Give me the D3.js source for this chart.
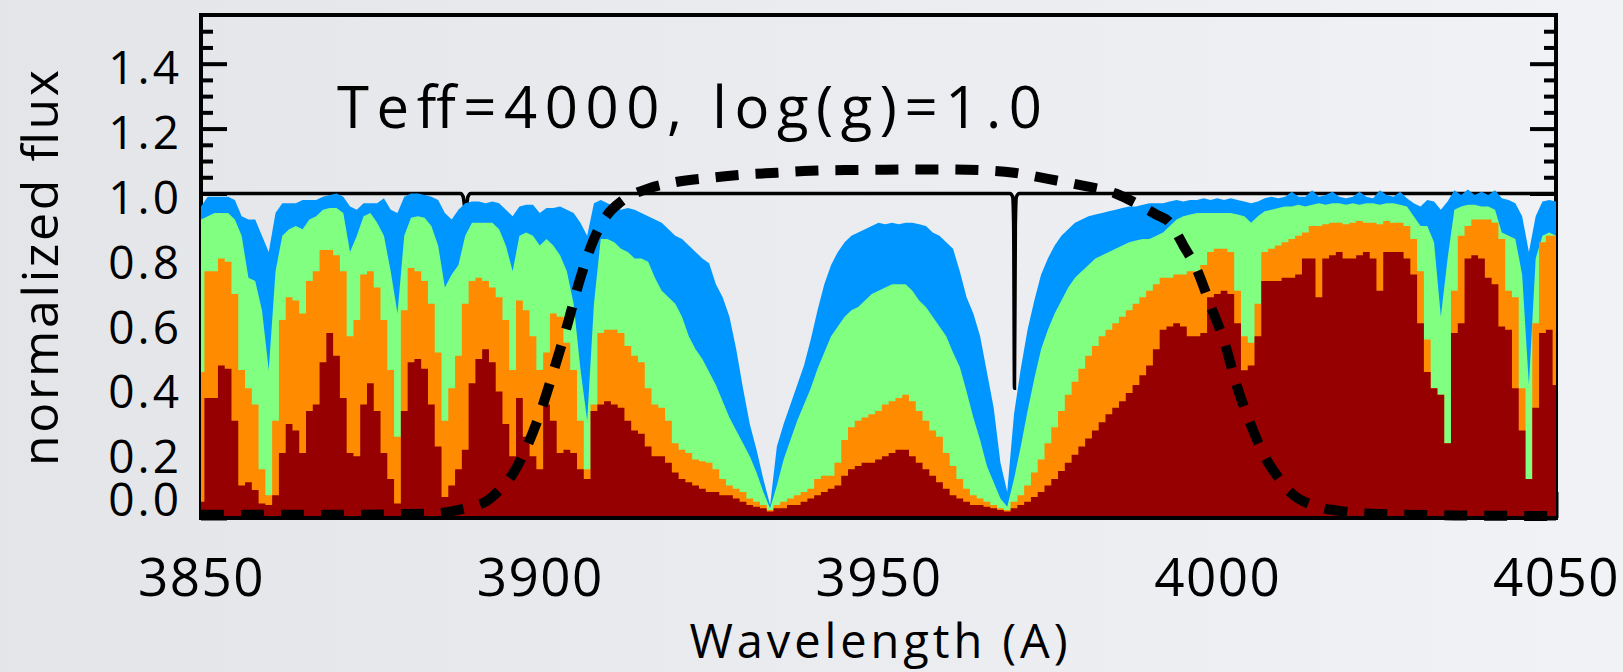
<!DOCTYPE html>
<html>
<head>
<meta charset="utf-8">
<script src="https://cdn.jsdelivr.net/npm/d3@7"></script>
<style>
  html, body { margin: 0; padding: 0; }
  svg { display: block; }
  text { font-family: "Open Sans", "Noto Sans", sans-serif; fill: #000; }
</style>
</head>
<body>
<div id="chart"></div>
<script>
// ---- data ----
// wavelength grid, 1 A sampling from 3850 to 4050
const wavelengths = d3.range(3850, 4051);

// metal-poor (top) ... metal-rich (bottom) model spectra
const fluxBlue = [
  0.96, 0.99, 0.99, 0.99, 0.99, 0.98, 0.93, 0.92, 0.92, 0.87,   // 3850
  0.82, 0.94, 0.97, 0.97, 0.97, 0.98, 0.98, 0.98, 0.99, 0.995,  // 3860
  1.0, 0.99, 0.96, 0.95, 0.97, 0.97, 0.97, 0.985, 0.95, 0.94,   // 3870
  0.99, 1.0, 1.0, 0.995, 0.99, 0.98, 0.94, 0.92, 0.95, 0.97,    // 3880
  0.975, 0.975, 0.97, 0.975, 0.97, 0.95, 0.93, 0.96, 0.965, 0.965, // 3890
  0.94, 0.955, 0.955, 0.96, 0.95, 0.94, 0.91, 0.87, 0.97, 0.98,  // 3900
  0.97, 0.96, 0.95, 0.955, 0.95, 0.94, 0.93, 0.92, 0.91, 0.89,   // 3910
  0.87, 0.86, 0.84, 0.82, 0.80, 0.785, 0.72, 0.68, 0.62, 0.52,   // 3920
  0.40, 0.29, 0.21, 0.12, 0.04, 0.22, 0.29, 0.35, 0.41, 0.47,    // 3930
  0.55, 0.64, 0.72, 0.78, 0.82, 0.85, 0.87, 0.88, 0.89, 0.90,    // 3940
  0.91, 0.905, 0.91, 0.905, 0.91, 0.91, 0.905, 0.90, 0.88, 0.87, // 3950
  0.85, 0.83, 0.76, 0.68, 0.63, 0.56, 0.45, 0.34, 0.17, 0.08,    // 3960
  0.32, 0.46, 0.58, 0.67, 0.75, 0.80, 0.84, 0.87, 0.89, 0.91,    // 3970
  0.92, 0.93, 0.935, 0.94, 0.945, 0.95, 0.955, 0.96, 0.96, 0.965, // 3980
  0.97, 0.97, 0.97, 0.975, 0.98, 0.975, 0.98, 0.98, 0.985, 0.98, // 3990
  0.985, 0.98, 0.985, 0.98, 0.975, 0.97, 0.975, 0.985, 0.99, 0.985, // 4000
  0.99, 1.005, 0.99, 0.99, 1.01, 0.99, 0.995, 1.005, 0.99, 0.985, // 4010
  0.99, 1.005, 0.99, 0.985, 1.01, 0.995, 0.99, 1.005, 0.985, 0.97, // 4020
  0.96, 0.98, 0.975, 0.95, 0.975, 1.01, 0.995, 1.012, 0.995, 1.005, // 4030
  0.995, 1.01, 0.985, 0.98, 0.97, 0.93, 0.82, 0.93, 0.975, 0.98, // 4040
  0.975                                                          // 4050
];

const fluxGreen = [
  0.92, 0.93, 0.94, 0.94, 0.94, 0.92, 0.87, 0.74, 0.73, 0.64,
  0.456, 0.76, 0.87, 0.89, 0.90, 0.89, 0.92, 0.93, 0.95, 0.955,
  0.955, 0.94, 0.82, 0.87, 0.93, 0.94, 0.91, 0.87, 0.76, 0.63,
  0.87, 0.925, 0.93, 0.925, 0.90, 0.84, 0.71, 0.75, 0.78, 0.87,
  0.91, 0.91, 0.91, 0.91, 0.89, 0.84, 0.76, 0.87, 0.88, 0.87,
  0.84, 0.86, 0.84, 0.81, 0.76, 0.66, 0.46, 0.30, 0.66, 0.86,
  0.86, 0.85, 0.83, 0.82, 0.80, 0.80, 0.79, 0.74, 0.70, 0.68,
  0.66, 0.62, 0.56, 0.52, 0.49, 0.45, 0.41, 0.36, 0.31, 0.27,
  0.23, 0.19, 0.14, 0.08, 0.03, 0.10, 0.18, 0.24, 0.30, 0.35,
  0.40, 0.46, 0.51, 0.56, 0.59, 0.62, 0.64, 0.65, 0.67, 0.69,
  0.70, 0.71, 0.72, 0.72, 0.72, 0.70, 0.67, 0.65, 0.62, 0.59,
  0.56, 0.51, 0.465, 0.39, 0.31, 0.24, 0.16, 0.11, 0.06, 0.035,
  0.12, 0.22, 0.33, 0.43, 0.52, 0.58, 0.63, 0.67, 0.71, 0.74,
  0.76, 0.78, 0.80, 0.81, 0.82, 0.83, 0.84, 0.85, 0.855, 0.86,
  0.86, 0.87, 0.88, 0.90, 0.92, 0.93, 0.935, 0.94, 0.94, 0.94,
  0.94, 0.94, 0.94, 0.935, 0.93, 0.91, 0.93, 0.945, 0.95, 0.955,
  0.96, 0.96, 0.965, 0.96, 0.965, 0.97, 0.965, 0.97, 0.97, 0.965,
  0.97, 0.965, 0.97, 0.97, 0.965, 0.97, 0.97, 0.965, 0.96, 0.93,
  0.90, 0.90, 0.85, 0.62, 0.80, 0.95, 0.96, 0.965, 0.965, 0.96,
  0.96, 0.95, 0.88, 0.87, 0.86, 0.75, 0.41, 0.80, 0.87, 0.88,
  0.87
];

const fluxOrange = [
  0.45, 0.76, 0.76, 0.80, 0.79, 0.69, 0.456, 0.40, 0.35, 0.15,
  0.07, 0.30, 0.61, 0.68, 0.67, 0.63, 0.73, 0.76, 0.826, 0.826,
  0.81, 0.76, 0.56, 0.61, 0.75, 0.76, 0.71, 0.61, 0.456, 0.25,
  0.64, 0.77, 0.76, 0.73, 0.66, 0.51, 0.30, 0.40, 0.50, 0.66,
  0.73, 0.74, 0.73, 0.71, 0.68, 0.61, 0.456, 0.67, 0.64, 0.56,
  0.456, 0.51, 0.63, 0.62, 0.54, 0.456, 0.30, 0.15, 0.35, 0.57,
  0.58, 0.58, 0.57, 0.53, 0.50, 0.48, 0.40, 0.35, 0.34, 0.30,
  0.23, 0.21, 0.20, 0.18, 0.175, 0.17, 0.15, 0.12, 0.10, 0.09,
  0.08, 0.06, 0.05, 0.04, 0.025, 0.04, 0.05, 0.06, 0.07, 0.08,
  0.09, 0.12, 0.13, 0.13, 0.17, 0.24, 0.28, 0.30, 0.31, 0.32,
  0.33, 0.35, 0.36, 0.37, 0.38, 0.36, 0.33, 0.30, 0.27, 0.25,
  0.20, 0.16, 0.12, 0.09, 0.07, 0.06, 0.05, 0.04, 0.03, 0.025,
  0.05, 0.07, 0.10, 0.14, 0.18, 0.23, 0.28, 0.33, 0.38, 0.42,
  0.46, 0.50, 0.53, 0.56, 0.58, 0.60, 0.62, 0.64, 0.66, 0.68,
  0.70, 0.72, 0.74, 0.74, 0.75, 0.75, 0.76, 0.76, 0.78, 0.82,
  0.83, 0.83, 0.82, 0.70, 0.56, 0.54, 0.66, 0.82, 0.83, 0.84,
  0.85, 0.86, 0.87, 0.88, 0.90, 0.90, 0.905, 0.91, 0.91, 0.905,
  0.91, 0.915, 0.91, 0.91, 0.905, 0.915, 0.91, 0.91, 0.90, 0.86,
  0.76, 0.55, 0.40, 0.38, 0.23, 0.70, 0.87, 0.90, 0.92, 0.92,
  0.92, 0.91, 0.86, 0.70, 0.68, 0.40, 0.12, 0.60, 0.85, 0.87,
  0.87
];

const fluxRed = [
  0.05, 0.37, 0.37, 0.47, 0.46, 0.30, 0.10, 0.11, 0.086, 0.045,
  0.04, 0.07, 0.20, 0.29, 0.27, 0.20, 0.33, 0.35, 0.48, 0.57,
  0.50, 0.37, 0.20, 0.19, 0.35, 0.415, 0.33, 0.20, 0.12, 0.045,
  0.33, 0.48, 0.49, 0.46, 0.35, 0.22, 0.065, 0.10, 0.15, 0.21,
  0.415, 0.49, 0.52, 0.48, 0.39, 0.29, 0.19, 0.37, 0.25, 0.19,
  0.15, 0.35, 0.30, 0.20, 0.21, 0.20, 0.15, 0.12, 0.33, 0.35,
  0.36, 0.35, 0.34, 0.30, 0.27, 0.26, 0.22, 0.19, 0.19, 0.17,
  0.14, 0.12, 0.11, 0.10, 0.09, 0.08, 0.08, 0.07, 0.07, 0.06,
  0.05, 0.04, 0.035, 0.03, 0.02, 0.03, 0.03, 0.04, 0.04, 0.05,
  0.06, 0.07, 0.08, 0.09, 0.10, 0.13, 0.15, 0.16, 0.17, 0.17,
  0.18, 0.19, 0.20, 0.21, 0.21, 0.19, 0.17, 0.15, 0.13, 0.11,
  0.09, 0.07, 0.06, 0.05, 0.04, 0.04, 0.035, 0.03, 0.025, 0.02,
  0.03, 0.04, 0.05, 0.065, 0.08, 0.10, 0.12, 0.145, 0.17, 0.195,
  0.22, 0.245, 0.27, 0.295, 0.32, 0.34, 0.36, 0.385, 0.41, 0.44,
  0.47, 0.52, 0.58, 0.59, 0.60, 0.59, 0.56, 0.56, 0.57, 0.68,
  0.69, 0.70, 0.69, 0.60, 0.455, 0.47, 0.56, 0.73, 0.73, 0.73,
  0.74, 0.74, 0.75, 0.80, 0.80, 0.68, 0.80, 0.81, 0.82, 0.80,
  0.80, 0.81, 0.82, 0.80, 0.70, 0.82, 0.82, 0.82, 0.80, 0.75,
  0.60, 0.45, 0.40, 0.38, 0.23, 0.57, 0.60, 0.80, 0.81, 0.80,
  0.74, 0.72, 0.59, 0.58, 0.40, 0.27, 0.12, 0.34, 0.57, 0.58,
  0.41
];

// filter transmission (dashed)
const filterWave = [3850, 3860, 3870, 3880, 3885, 3888, 3890, 3892, 3894, 3896, 3898, 3900,
  3902, 3904, 3906, 3908, 3910, 3912, 3916, 3920, 3925, 3930, 3935, 3940, 3945, 3950,
  3955, 3960, 3965, 3970, 3975, 3980, 3985, 3988, 3991, 3993, 3995, 3997, 3999, 4001,
  4003, 4005, 4007, 4009, 4011, 4014, 4018, 4024, 4035, 4050];
const filterTrans = [0.01, 0.01, 0.01, 0.012, 0.015, 0.025, 0.035, 0.05, 0.085, 0.135, 0.215, 0.32,
  0.45, 0.59, 0.74, 0.86, 0.935, 0.975, 1.015, 1.035, 1.048, 1.058, 1.064, 1.07, 1.072, 1.073,
  1.074, 1.074, 1.072, 1.064, 1.045, 1.025, 1.0, 0.97, 0.935, 0.91, 0.84, 0.765, 0.655, 0.545,
  0.40, 0.285, 0.19, 0.125, 0.075, 0.04, 0.022, 0.012, 0.008, 0.006];

// reference continuum with H8 and H-epsilon
const refWave = [3850, 3888.3, 3888.7, 3888.9, 3889.05, 3889.2, 3889.4, 3889.8,
  3969.4, 3969.8, 3969.95, 3970.07, 3970.2, 3970.35, 3970.75, 4050];
const refFlux = [1.0, 1.0, 0.99, 0.96, 0.94, 0.96, 0.99, 1.0,
  1.0, 0.99, 0.9, 0.40, 0.9, 0.99, 1.0, 1.0];

const yMajorTicks = [0, 0.2, 0.4, 0.6, 0.8, 1.0, 1.2, 1.4];
const yMinorTicks = [0.05, 0.1, 0.15, 0.25, 0.3, 0.35, 0.45, 0.5, 0.55, 0.65, 0.7, 0.75,
  0.85, 0.9, 0.95, 1.05, 1.1, 1.15, 1.25, 1.3, 1.35, 1.45, 1.5];
const xTicks = [3850, 3900, 3950, 4000, 4050];

const titleText = "Teff=4000,  log(g)=1.0";
const xLabelText = "Wavelength (A)";
const yLabelText = "normalized  flux";

// ---- layout ----
const W = 1623, H = 672;
const plot = { left: 201, right: 1556, top: 15, bottom: 518 };

const x = d3.scaleLinear().domain([3850, 4050]).range([plot.left, plot.right]);
const y = d3.scaleLinear().domain([0, 1.55]).range([plot.bottom, plot.top]);

const svg = d3.select("#chart").append("svg")
  .attr("width", W).attr("height", H)
  .attr("viewBox", [0, 0, W, H]);

// slide background
const grad = svg.append("defs").append("linearGradient")
  .attr("id", "bg").attr("x1", 0).attr("x2", 1).attr("y1", 0).attr("y2", 0);
grad.append("stop").attr("offset", "0%").attr("stop-color", "#e4e5e9");
grad.append("stop").attr("offset", "100%").attr("stop-color", "#f1f2f5");
svg.append("rect").attr("width", W).attr("height", H).attr("fill", "url(#bg)");

// frame
svg.append("rect")
  .attr("x", plot.left).attr("y", plot.top)
  .attr("width", plot.right - plot.left).attr("height", plot.bottom - plot.top)
  .attr("fill", "none").attr("stroke", "#000").attr("stroke-width", 4);

// y ticks (inward on both sides)
function styleAxis(g) {
  g.select(".domain").remove();
  g.selectAll(".tick line").attr("stroke", "#000").attr("stroke-width", 4);
}

const yLeft = svg.append("g").attr("transform", `translate(${plot.left},0)`)
  .call(d3.axisLeft(y).tickValues(yMajorTicks).tickSizeInner(-26).tickSizeOuter(0)
    .tickPadding(19).tickFormat(d3.format(".1f")))
  .call(styleAxis);
yLeft.selectAll(".tick text")
  .style("font-size", "46px").style("letter-spacing", "3px")
  .attr("dy", d => d === 0 ? "-3px" : "0.43em");

svg.append("g").attr("transform", `translate(${plot.left},0)`)
  .call(d3.axisLeft(y).tickValues(yMinorTicks).tickSize(-12).tickFormat(""))
  .call(styleAxis);
svg.append("g").attr("transform", `translate(${plot.right},0)`)
  .call(d3.axisRight(y).tickValues(yMajorTicks).tickSize(-26).tickFormat(""))
  .call(styleAxis);
svg.append("g").attr("transform", `translate(${plot.right},0)`)
  .call(d3.axisRight(y).tickValues(yMinorTicks).tickSize(-12).tickFormat(""))
  .call(styleAxis);

// x axis
const xAxis = svg.append("g").attr("transform", `translate(0,${plot.bottom})`)
  .call(d3.axisBottom(x).tickValues(xTicks).tickSizeInner(-26).tickSizeOuter(0)
    .tickPadding(40).tickFormat(d3.format("d")))
  .call(styleAxis);
xAxis.selectAll(".tick text").style("font-size", "53px").style("letter-spacing", "1.5px");

// reference continuum (behind the spectra)
const refLine = d3.line()
  .x((d, i) => x(refWave[i])).y(d => y(d))
  .curve(d3.curveMonotoneX);
svg.append("path").datum(refFlux)
  .attr("d", refLine).attr("fill", "none")
  .attr("stroke", "#000").attr("stroke-width", 3.5);

// filled spectra
const series = [
  { values: fluxBlue,   color: "#0096ff", curve: d3.curveLinear },
  { values: fluxGreen,  color: "#80ff80", curve: d3.curveLinear },
  { values: fluxOrange, color: "#ff8c00", curve: d3.curveStep },
  { values: fluxRed,    color: "#960000", curve: d3.curveStep }
];
series.forEach(s => {
  const area = d3.area()
    .x((d, i) => x(wavelengths[i]))
    .y0(y(0)).y1(d => y(d))
    .curve(s.curve);
  svg.append("path").datum(s.values)
    .attr("d", area).attr("fill", s.color);
});

// bottom axis line stays on top of the fills
svg.append("line")
  .attr("x1", plot.left - 2).attr("x2", plot.right + 2)
  .attr("y1", plot.bottom).attr("y2", plot.bottom)
  .attr("stroke", "#000").attr("stroke-width", 4);

// filter curve
const filterLine = d3.line()
  .x((d, i) => x(filterWave[i])).y(d => y(d))
  .curve(d3.curveMonotoneX);
svg.append("path").datum(filterTrans)
  .attr("d", filterLine).attr("fill", "none")
  .attr("stroke", "#000").attr("stroke-width", 10)
  .attr("stroke-dasharray", "23 17");

// texts
svg.append("text")
  .attr("x", 337).attr("y", 128)
  .attr("textLength", 705).attr("lengthAdjust", "spacing")
  .style("font-size", "58px")
  .text(titleText);

svg.append("text")
  .attr("x", (plot.left + plot.right) / 2).attr("y", 658)
  .attr("text-anchor", "middle")
  .attr("textLength", 378).attr("lengthAdjust", "spacing")
  .style("font-size", "47px")
  .text(xLabelText);

svg.append("text")
  .attr("transform", "rotate(-90)")
  .attr("x", -268).attr("y", 58)
  .attr("text-anchor", "middle")
  .attr("textLength", 396).attr("lengthAdjust", "spacing")
  .style("font-size", "50px")
  .text(yLabelText);
</script>
</body>
</html>
